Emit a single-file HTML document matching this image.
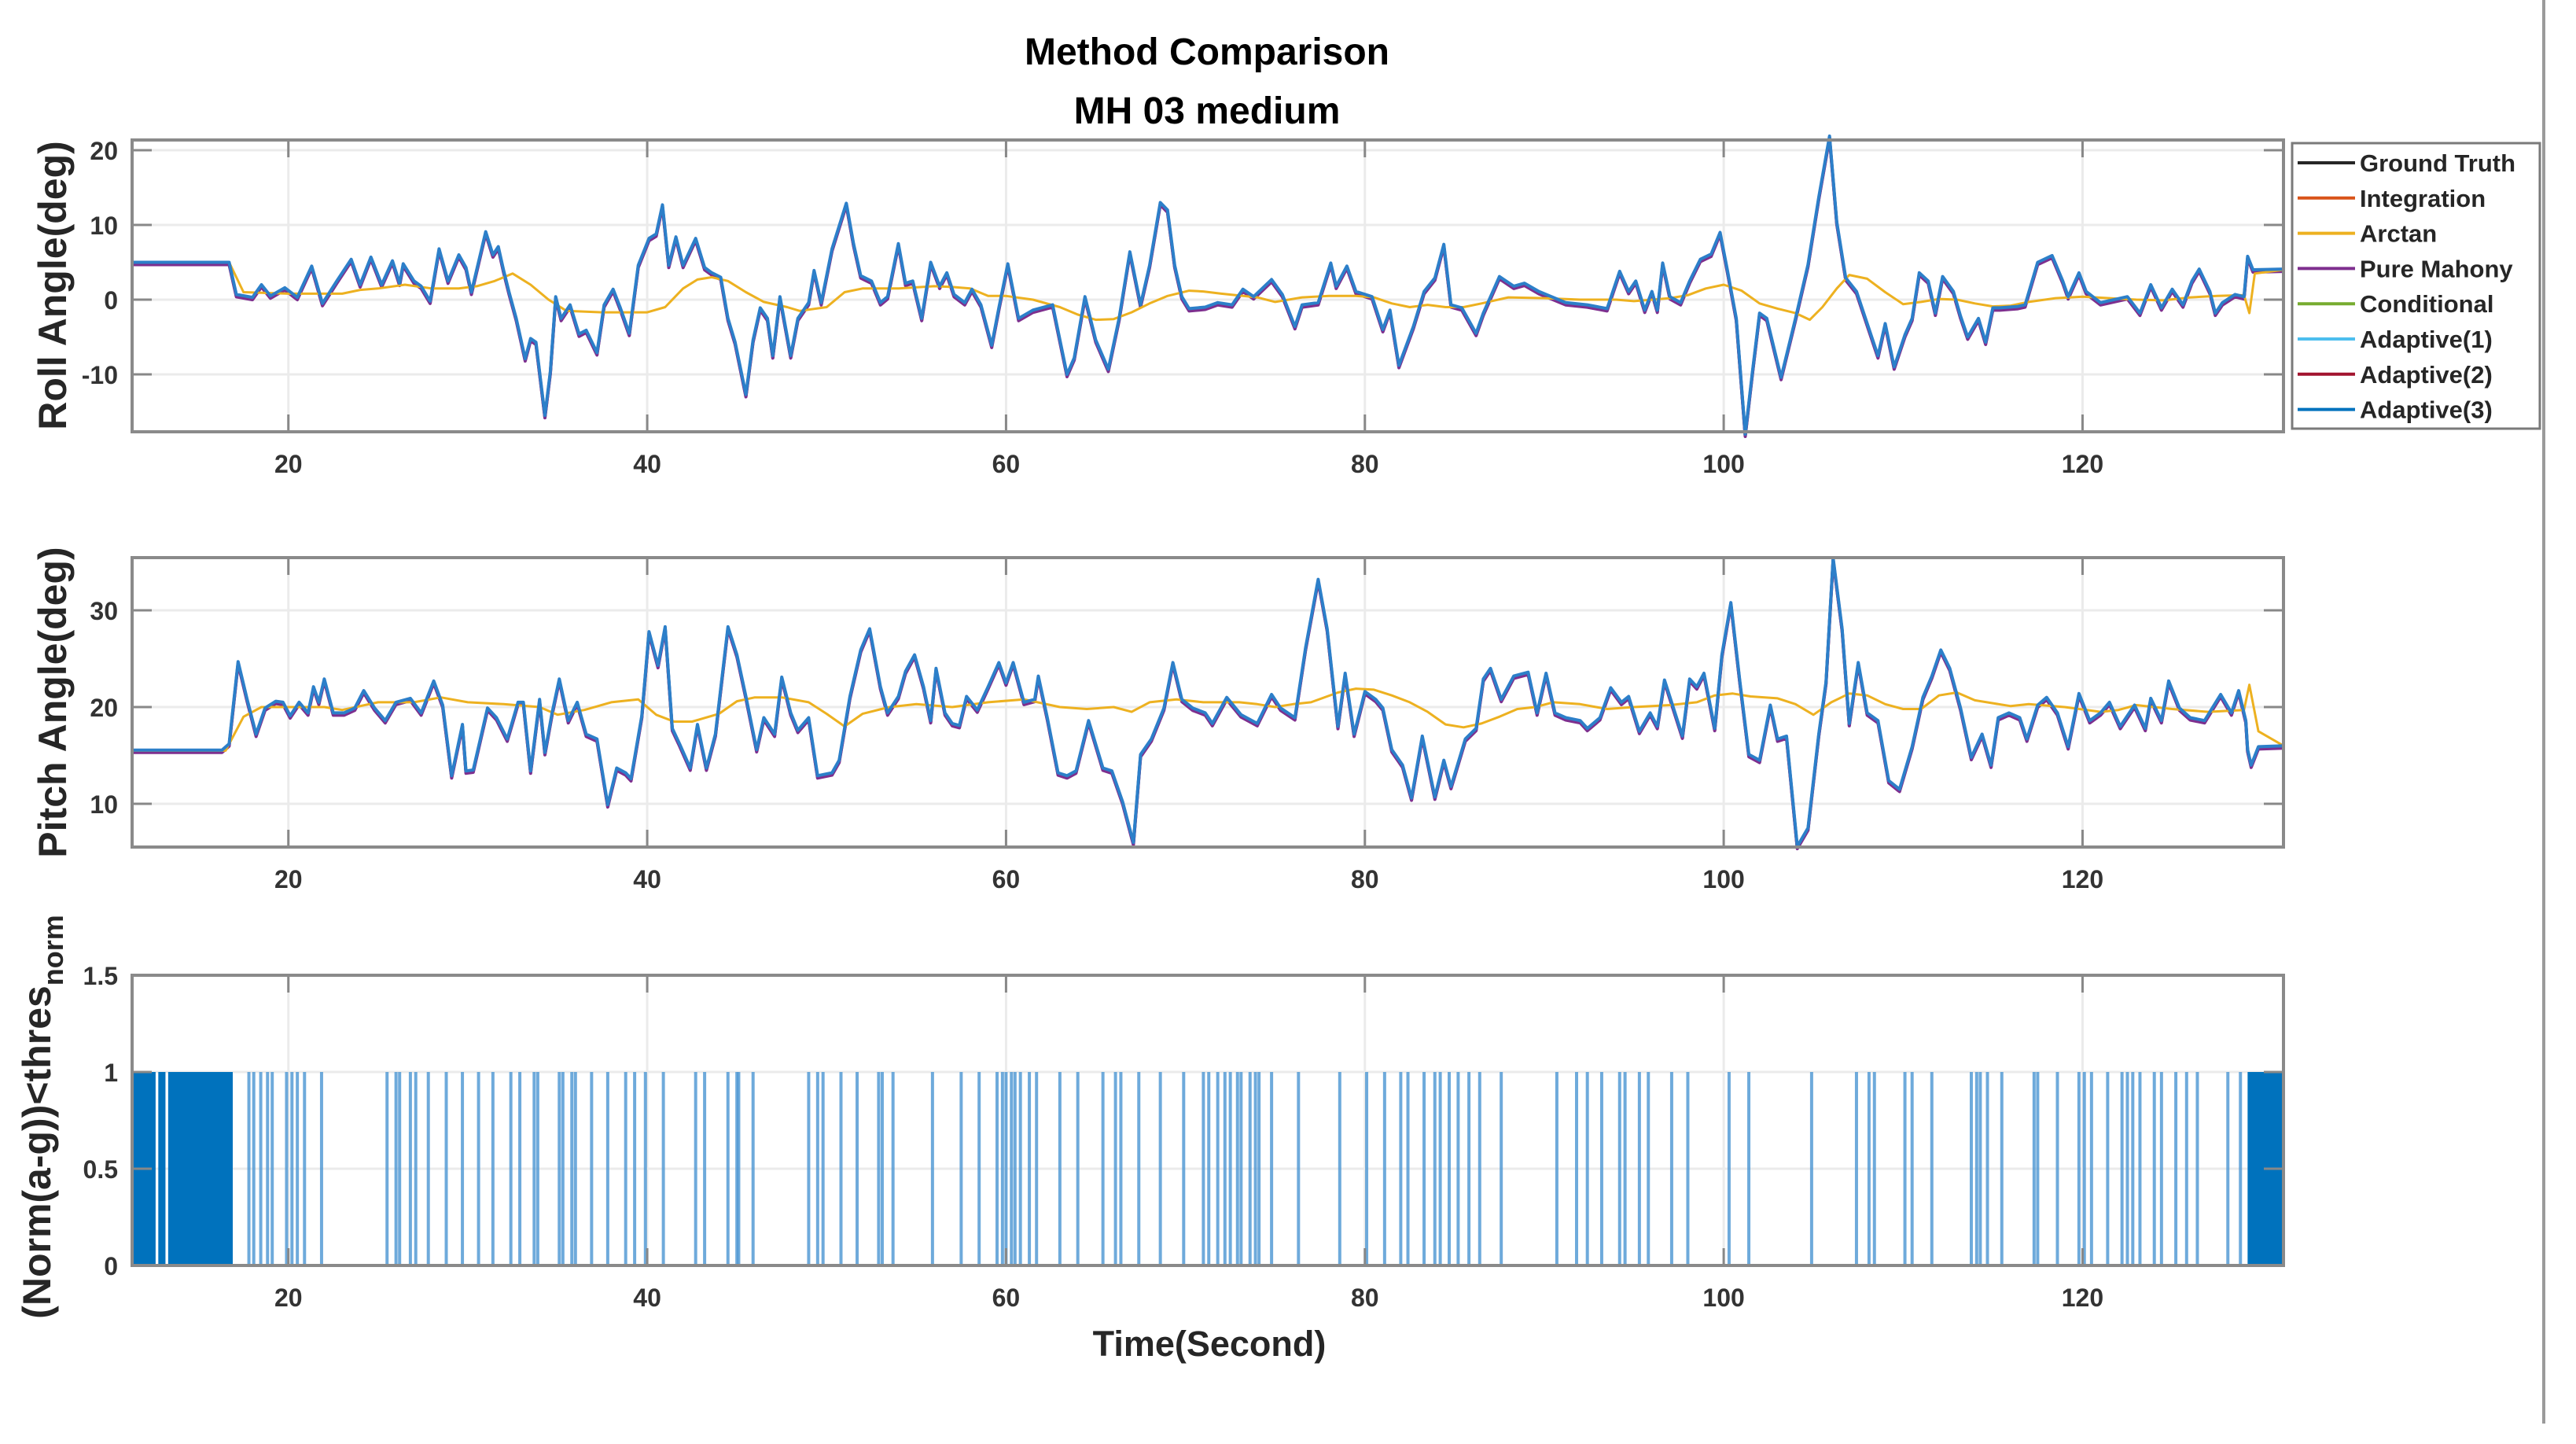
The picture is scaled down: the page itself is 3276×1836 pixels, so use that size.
<!DOCTYPE html>
<html><head><meta charset="utf-8"><title>Method Comparison</title>
<style>
html,body{margin:0;padding:0;background:#fff;}
svg{display:block;}
text{font-family:"Liberation Sans",Arial,sans-serif;}
</style></head>
<body>
<svg id="fig" width="3276" height="1836" viewBox="0 0 3276 1836">
  <g id="layer-grid"></g>
  <g id="layer-data"></g>
  <g id="layer-axes"></g>
  <text x="1535" y="82" text-anchor="middle" font-size="48" font-weight="bold" fill="#000">Method Comparison</text>
  <text x="1535" y="157" text-anchor="middle" font-size="48" font-weight="bold" fill="#000">MH 03 medium</text>
  <text x="1538" y="1724" text-anchor="middle" font-size="45" font-weight="bold" fill="#262626">Time(Second)</text>
  <text transform="translate(84,363) rotate(-90)" text-anchor="middle" font-size="50" font-weight="bold" fill="#262626">Roll Angle(deg)</text>
  <text transform="translate(84,893) rotate(-90)" text-anchor="middle" font-size="50" font-weight="bold" fill="#262626">Pitch Angle(deg)</text>
  <text transform="translate(64,1420) rotate(-90)" text-anchor="middle" font-size="50" font-weight="bold" fill="#262626">(Norm(a-g))&lt;thres<tspan font-size="36" dy="16">norm</tspan></text>
  <line x1="3235" y1="0" x2="3235" y2="1810" stroke="#9a9a9a" stroke-width="4"/>
  <g id="legend">
    <rect x="2915" y="182" width="315" height="363" fill="#fff" stroke="#7a7a7a" stroke-width="3"/>
  </g>
</svg>
<script>
// ---------- data ----------
const xTicks = [20,40,60,80,100,120];
const rollTicks = [20,10,0,-10];
const pitchTicks = [30,20,10];
const normTicks = [1.5,1,0.5,0];
const normTickLabels = ["1.5","1","0.5","0"];
const legendLabels = ["Ground Truth","Integration","Arctan","Pure Mahony","Conditional","Adaptive(1)","Adaptive(2)","Adaptive(3)"];
const legendColors = ["#262626","#D95319","#EDB120","#7E2F8E","#77AC30","#4DBEEE","#A2142F","#0072BD"];

const rollAdaptive = [[11.3,5],[16.7,5],[17.1,0.7],[18,0.3],[18.5,2],[19,0.5],[19.8,1.6],[20.5,0.3],[21.3,4.5],[21.9,-0.5],[22.7,2.5],[23.5,5.4],[24,2],[24.6,5.7],[25.2,2],[25.8,5.2],[26.2,2.2],[26.4,4.8],[27,2.5],[27.4,1.8],[27.9,-0.2],[28.4,6.8],[28.9,2.5],[29.5,6],[29.9,4.3],[30.2,1],[31,9.1],[31.4,6],[31.7,7.1],[32,3.9],[32.3,1],[32.7,-2.5],[33.2,-7.9],[33.5,-5.2],[33.8,-5.7],[34.3,-15.5],[34.6,-9.6],[34.9,0.4],[35.2,-2.5],[35.7,-0.7],[36.2,-4.6],[36.6,-4.1],[37.2,-7.1],[37.6,-0.7],[38.1,1.4],[38.5,-1.1],[39,-4.5],[39.5,4.6],[40.1,8.2],[40.5,8.8],[40.85,12.7],[41.2,4.6],[41.6,8.4],[42,4.6],[42.7,8.2],[43.2,4.3],[43.6,3.6],[44.1,3],[44.5,-2.5],[44.9,-5.7],[45.5,-12.7],[45.9,-5.4],[46.3,-1.1],[46.7,-2.5],[47,-7.5],[47.4,0.4],[48,-7.5],[48.4,-2.5],[49,-0.4],[49.3,3.9],[49.7,-0.4],[50.3,6.8],[51.1,12.9],[51.5,7.5],[51.9,3.2],[52.5,2.5],[53,-0.4],[53.4,0.4],[54,7.5],[54.4,2.2],[54.8,2.5],[55.3,-2.5],[55.8,5],[56.3,1.8],[56.7,3.6],[57.1,0.7],[57.7,-0.4],[58.1,1.4],[58.6,-0.7],[59.2,-6.1],[59.6,-1.1],[60.1,4.8],[60.7,-2.5],[61.5,-1.4],[62.6,-0.7],[63.4,-10],[63.8,-7.8],[64.4,0.4],[65,-5.4],[65.7,-9.3],[66.3,-2.5],[66.9,6.4],[67.5,-0.7],[68,4.6],[68.6,13],[69,12],[69.4,4.6],[69.8,0.4],[70.2,-1.2],[71.1,-1],[71.8,-0.4],[72.6,-0.7],[73.2,1.4],[73.8,0.4],[74.8,2.7],[75.4,0.7],[76.1,-3.6],[76.5,-0.7],[77.4,-0.4],[78.1,4.9],[78.4,1.8],[79,4.5],[79.5,1.1],[80.4,0.4],[81,-4],[81.4,-1.4],[81.9,-8.8],[82.7,-3.6],[83.3,1.1],[83.9,2.9],[84.4,7.4],[84.8,-0.7],[85.4,-1.1],[86.2,-4.5],[86.6,-1.8],[87.5,3.1],[88.3,1.8],[88.9,2.2],[89.7,1.1],[91.2,-0.4],[92.4,-0.7],[93.5,-1.2],[94.2,3.8],[94.7,1.1],[95.1,2.5],[95.6,-1.4],[96,1.1],[96.3,-1.4],[96.6,4.9],[97,0.4],[97.6,-0.4],[98.1,2.5],[98.7,5.4],[99.3,6.1],[99.8,9],[100.2,4],[100.7,-2.5],[101.2,-18],[101.6,-9.7],[102,-1.8],[102.4,-2.5],[103.2,-10.4],[104,-2.5],[104.7,4.7],[105.3,13.7],[105.9,21.9],[106.3,10.4],[106.8,2.9],[107.4,1.1],[108,-3.2],[108.6,-7.5],[109,-3.2],[109.5,-9],[110.1,-4.7],[110.5,-2.5],[110.9,3.6],[111.4,2.5],[111.8,-1.8],[112.2,3.1],[112.8,1.1],[113.2,-2.2],[113.6,-5],[114.2,-2.5],[114.6,-5.7],[115,-1.1],[115.4,-1.1],[116.4,-0.9],[116.8,-0.7],[117.5,5],[118.3,5.9],[118.9,2.5],[119.2,0.4],[119.8,3.6],[120.2,1.1],[121,-0.4],[122.5,0.4],[123.2,-1.8],[123.8,2],[124.4,-1.1],[125,1.4],[125.6,-0.7],[126.1,2.5],[126.5,4.1],[127.1,1.1],[127.4,-1.8],[127.8,-0.4],[128.5,0.7],[129,0.4],[129.2,5.8],[129.5,4],[131.2,4.1]];

const rollArctan = [[11.3,5],[16.7,5],[17.5,1],[20,0.8],[21.5,0.8],[23,0.8],[24,1.3],[25,1.5],[26.5,2],[28,1.5],[29.5,1.5],[30.5,1.8],[31.5,2.5],[32.5,3.5],[33.5,2],[34.5,0],[35.5,-1.5],[37.5,-1.7],[39,-1.7],[40,-1.7],[41,-1],[42,1.5],[42.8,2.7],[43.6,3],[44.5,2.5],[45.5,1],[46.5,-0.3],[47.8,-1],[48.5,-1.5],[50,-1],[51,1],[52,1.5],[54,1.5],[56,1.8],[57,1.7],[58,1.5],[59,0.5],[60,0.5],[61.5,0],[63,-1],[64,-2],[65,-2.7],[66,-2.6],[67,-1.7],[68,-0.5],[69,0.5],[70.2,1.2],[71,1.1],[72,0.8],[74,0.3],[75,-0.3],[76.5,0.3],[78,0.5],[79.5,0.5],[80.5,0.3],[81.5,-0.5],[82.5,-1],[83.5,-0.7],[84.5,-1],[85.5,-1],[86.5,-0.5],[88,0.3],[90,0.2],[92,0],[94,0],[95,-0.2],[96,0],[97,0.2],[98,0.6],[99,1.5],[100,2],[101,1.2],[102,-0.5],[103,-1.2],[104,-1.8],[104.8,-2.7],[105.5,-1],[106.3,1.5],[107,3.3],[108,2.8],[109,1],[110,-0.6],[111,-0.3],[112,0.1],[113,0],[114,-0.5],[115,-0.9],[116,-0.8],[117,-0.3],[118.5,0.2],[120,0.4],[121.5,0.2],[123,0],[124.5,-0.1],[126,0.3],[127.5,0.5],[129,0.6],[129.3,-1.8],[129.6,3.5],[131.2,4]];

const pitchAdaptive = [[11.3,15.55],[16.3,15.55],[16.7,16.2],[17.2,24.7],[17.7,20.8],[18.2,17.2],[18.7,19.9],[19.3,20.6],[19.7,20.5],[20.1,19.1],[20.6,20.5],[21.1,19.4],[21.4,22.1],[21.7,20.5],[22,22.9],[22.5,19.4],[23.1,19.4],[23.7,19.9],[24.2,21.7],[24.8,19.9],[25.4,18.6],[26,20.5],[26.8,20.9],[27.4,19.4],[28.1,22.7],[28.6,20.2],[29.1,12.9],[29.7,18.2],[29.9,13.4],[30.3,13.5],[31.1,19.9],[31.6,18.9],[32.2,16.7],[32.8,20.5],[33.1,20.5],[33.5,13.4],[34,20.8],[34.3,15.3],[34.7,19.4],[35.1,22.9],[35.6,18.6],[36.1,20.5],[36.6,17.2],[37.2,16.7],[37.8,9.9],[38.3,13.7],[38.8,13.2],[39.1,12.6],[39.7,19.1],[40.1,27.8],[40.6,24.3],[41,28.3],[41.4,17.8],[41.8,16.2],[42.4,13.7],[42.8,18.2],[43.3,13.7],[43.8,17.2],[44.5,28.3],[45,25.4],[45.5,21.1],[46.1,15.6],[46.5,18.9],[47.1,17.2],[47.5,23.1],[48,19.4],[48.4,17.6],[49,18.9],[49.5,12.9],[50.3,13.2],[50.7,14.5],[51.3,21.1],[51.9,25.9],[52.4,28.1],[53,22.1],[53.4,19.4],[54,21.1],[54.4,23.7],[54.9,25.4],[55.4,22.1],[55.8,18.6],[56.1,24],[56.6,19.4],[57,18.3],[57.4,18.1],[57.8,21.1],[58.4,19.7],[59,22.1],[59.6,24.6],[60,22.5],[60.4,24.6],[61,20.5],[61.6,20.8],[61.8,23.2],[62.3,18.9],[62.9,13.2],[63.4,12.9],[63.9,13.4],[64.6,18.6],[65.4,13.7],[65.9,13.4],[66.5,10.2],[67.1,6],[67.5,15.1],[68.1,16.7],[68.8,19.9],[69.3,24.6],[69.8,20.8],[70.4,19.9],[71.1,19.4],[71.5,18.3],[72.3,21],[73.1,19.2],[74,18.3],[74.8,21.3],[75.3,19.9],[76.1,18.9],[76.7,26.2],[77.4,33.2],[77.9,28.1],[78.5,18],[78.9,23.5],[79.4,17.2],[80,21.6],[80.6,20.8],[81,19.9],[81.5,15.6],[82.1,14],[82.6,10.6],[83.2,17],[83.9,10.7],[84.4,14.5],[84.8,11.8],[85.6,16.7],[86.2,17.8],[86.6,22.9],[87,24],[87.6,20.8],[88.3,23.2],[89.1,23.6],[89.6,19.4],[90.1,23.5],[90.6,19.4],[91.2,18.9],[92,18.6],[92.4,17.8],[93.1,18.9],[93.7,22],[94.3,20.5],[94.7,21.1],[95.3,17.5],[95.9,19.4],[96.3,18],[96.7,22.8],[97.2,19.9],[97.7,17],[98.1,22.9],[98.5,22.1],[98.9,23.5],[99.5,17.8],[99.9,25.4],[100.4,30.8],[100.9,22.7],[101.4,15.1],[102,14.5],[102.6,20.2],[103,16.7],[103.5,17],[104.1,5.6],[104.7,7.5],[105.3,17.2],[105.7,22.6],[106.1,35.4],[106.6,28.1],[107,18.3],[107.5,24.6],[108,19.4],[108.6,18.6],[109.2,12.4],[109.8,11.5],[110.5,15.9],[111.1,21],[111.6,23.2],[112.1,25.9],[112.6,24],[113.2,19.9],[113.8,14.8],[114.4,17.2],[114.9,14],[115.3,18.9],[115.9,19.4],[116.5,18.9],[116.9,16.7],[117.5,20.2],[118,21],[118.6,19.4],[119.2,15.9],[119.8,21.4],[120.4,18.6],[121,19.4],[121.5,20.5],[122.1,18],[122.9,20.2],[123.5,17.8],[123.8,20.9],[124.4,18.6],[124.8,22.7],[125.4,19.9],[126,18.9],[126.8,18.6],[127.7,21.3],[128.3,19.4],[128.7,21.7],[129.1,18.6],[129.2,15.6],[129.4,14],[129.8,15.9],[131.2,16]];

const pitchArctan = [[11.3,15.5],[16.5,15.5],[17.5,19],[18.5,20],[20,20],[22,20],[23,19.7],[25,20.5],[27,20.5],[28.5,21],[30,20.5],[32,20.3],[34,20],[35,19.2],[36.5,19.7],[38,20.5],[39.5,20.8],[40.5,19.2],[41.5,18.5],[42.5,18.5],[44,19.3],[45,20.6],[46,21],[47.5,21],[49,20.5],[50,19.3],[51,18],[52,19.3],[53.5,20],[55,20.3],[57,20],[59,20.5],[61,20.8],[63,20],[64.5,19.8],[66,20],[67,19.5],[68,20.5],[69.5,20.8],[71,20.5],[73,20.5],[74,20.3],[75,20],[76,20.3],[77,20.5],[78.5,21.5],[79.5,21.9],[80.5,21.8],[81.5,21.2],[82.5,20.5],[83.5,19.5],[84.5,18.2],[85.5,17.9],[86.5,18.3],[87.5,19],[88.5,19.8],[89.5,20],[90.5,20.5],[92,20.3],[93.5,19.8],[95,20],[97,20.2],[98.5,20.5],[99.5,21.2],[100.5,21.4],[101.5,21.1],[103,20.9],[104,20.3],[105,19.2],[106,20.5],[107,21.4],[108,21.2],[109,20.3],[110,19.8],[111,19.8],[112,21.2],[113,21.5],[114,20.7],[115,20.4],[116,20.1],[117,20.3],[119,20],[121,19.5],[122,19.7],[123,20.2],[125,19.8],[127,19.5],[129,19.7],[129.3,22.3],[129.8,17.5],[131.2,16]];

const normEvents = [17.8,18.07,18.46,18.84,19.1,19.9,20.2,20.5,20.9,21.85,25.5,26.0,26.2,26.8,27.1,27.8,28.8,29.7,30.6,31.4,32.4,32.9,33.7,33.9,35.1,35.3,35.8,36.0,36.9,37.8,38.8,39.3,39.9,40.9,42.7,43.2,44.5,45.0,45.1,45.9,49.0,49.5,49.8,50.8,51.7,52.9,53.1,53.7,55.9,57.5,58.5,59.5,59.8,60.0,60.3,60.5,60.8,61.3,61.7,63.0,64.0,65.4,66.1,66.4,67.4,68.6,69.9,71.0,71.3,71.8,72.2,72.5,72.9,73.1,73.6,73.9,74.1,74.8,76.3,78.6,80.1,81.1,82.0,82.4,83.3,83.9,84.2,84.7,85.2,85.8,86.4,87.6,90.7,91.8,92.4,93.2,94.2,94.5,95.3,95.8,97.1,98.0,100.3,101.4,104.9,107.4,108.1,108.4,110.1,110.5,111.6,113.8,114.1,114.3,114.7,115.5,117.3,117.5,118.6,119.8,120.1,120.5,121.4,122.2,122.5,122.8,123.2,124.0,124.4,125.2,125.8,126.4,128.1,128.8];
const normDenseStart = [11.3,12.75,13.3,129.2];
const normDenseEnd = [12.6,13.15,16.9,131.2];

// ---------- axes ----------
const X0 = 168, X1 = 2904, T0 = 11.29, T1 = 131.2;
const xs = t => X0 + (t - T0) / (T1 - T0) * (X1 - X0);
const panels = {
  roll:  {top:178, bottom:549, y: v => 381 - 9.5 * v},
  pitch: {top:709, bottom:1077, y: v => 899 - 12.3 * (v - 20)},
  norm:  {top:1240, bottom:1609, y: v => 1609 - 246 * v}
};
const NS = "http://www.w3.org/2000/svg";
function mk(tag, attrs, parent) {
  const e = document.createElementNS(NS, tag);
  for (const k in attrs) e.setAttribute(k, attrs[k]);
  parent.appendChild(e);
  return e;
}
const gGrid = document.getElementById('layer-grid');
const gData = document.getElementById('layer-data');
const gAxes = document.getElementById('layer-axes');

function drawAxes(key, ticks, labels) {
  const p = panels[key];
  const g = mk('g', {}, gGrid);
  
  
  const ga = mk('g', {}, gAxes);
  
  
  xTicks.forEach(t => {
    const x = xs(t);
    const gl = mk('line', {x1:x, x2:x, y1:p.top, y2:p.bottom, stroke:'#ebebeb', 'stroke-width':3}, g);
    
    
    mk('line', {x1:x, x2:x, y1:p.top, y2:p.top + 22, stroke:'#888', 'stroke-width':3}, ga);
    mk('line', {x1:x, x2:x, y1:p.bottom, y2:p.bottom - 22, stroke:'#888', 'stroke-width':3}, ga);
    const tl = mk('text', {x:x, y:p.bottom + 52, 'text-anchor':'middle', 'font-size':32, 'font-weight':'bold', fill:'#333'}, ga);
    tl.textContent = t;
    
    
  });
  ticks.forEach((v, i) => {
    const y = p.y(v);
    const gl = mk('line', {x1:X0, x2:X1, y1:y, y2:y, stroke:'#ebebeb', 'stroke-width':3}, g);
    
    
    mk('line', {x1:X0, x2:X0 + 25, y1:y, y2:y, stroke:'#888', 'stroke-width':3}, ga);
    mk('line', {x1:X1, x2:X1 - 25, y1:y, y2:y, stroke:'#888', 'stroke-width':3}, ga);
    const tl = mk('text', {x:150, y:y + 12, 'text-anchor':'end', 'font-size':32, 'font-weight':'bold', fill:'#333'}, ga);
    tl.textContent = labels ? labels[i] : v;
    
    
  });
  const box = mk('rect', {x:X0, y:p.top, width:X1 - X0, height:p.bottom - p.top, fill:'none', stroke:'#8a8a8a', 'stroke-width':4}, ga);
  
  
}
drawAxes('roll', rollTicks);
drawAxes('pitch', pitchTicks);
drawAxes('norm', normTicks, normTickLabels);

function pathOf(arr, yf, dy) {
  return arr.map((d, i) => (i ? 'L' : 'M') + xs(d[0]).toFixed(1) + ',' + (yf(d[1]) + dy).toFixed(1)).join('');
}
function series(key, arr, color, w, dy, name) {
  const el = mk('path', {d:pathOf(arr, panels[key].y, dy), fill:'none', stroke:color, 'stroke-width':w, 'stroke-linejoin':'round'}, gData);
  
  
}
series('roll', rollAdaptive, '#262626', 4, 2, 'roll-ground-truth-line');
series('roll', rollAdaptive, '#7E2F8E', 4, 3, 'roll-pure-mahony-line');
series('roll', rollArctan, '#EDB120', 3, 0, 'roll-arctan-line');
series('roll', rollAdaptive, '#2c7fc9', 4, 0, 'roll-adaptive3-line');
series('pitch', pitchAdaptive, '#262626', 4, 2, 'pitch-ground-truth-line');
series('pitch', pitchAdaptive, '#7E2F8E', 4, 3, 'pitch-pure-mahony-line');
series('pitch', pitchArctan, '#EDB120', 3, 0, 'pitch-arctan-line');
series('pitch', pitchAdaptive, '#2c7fc9', 4, 0, 'pitch-adaptive3-line');

const pn = panels.norm;
normDenseStart.forEach((s, i) => {
  const r = mk('rect', {x:xs(s), y:pn.y(1), width:xs(normDenseEnd[i]) - xs(s), height:pn.y(0) - pn.y(1), fill:'#0072BD'}, gData);
  
  
});
normEvents.forEach(t => {
  const l = mk('line', {x1:xs(t), x2:xs(t), y1:pn.y(1), y2:pn.y(0), stroke:'#4a95d2', 'stroke-width':4, 'stroke-opacity':0.8}, gData);
  
  
});
const base = mk('line', {x1:X0, x2:X1, y1:pn.y(0), y2:pn.y(0), stroke:'#4a95d2', 'stroke-width':4}, gData);



const gl = document.getElementById('legend');
legendLabels.forEach((lab, i) => {
  const y = 207 + i * 44.8;
  const ln = mk('line', {x1:2922, x2:2995, y1:y, y2:y, stroke:legendColors[i], 'stroke-width':4}, gl);
  
  
  const tx = mk('text', {x:3001, y:y + 11, 'font-size':31, 'font-weight':'bold', fill:'#262626'}, gl);
  tx.textContent = lab;
  
  
});
</script>
</body></html>
